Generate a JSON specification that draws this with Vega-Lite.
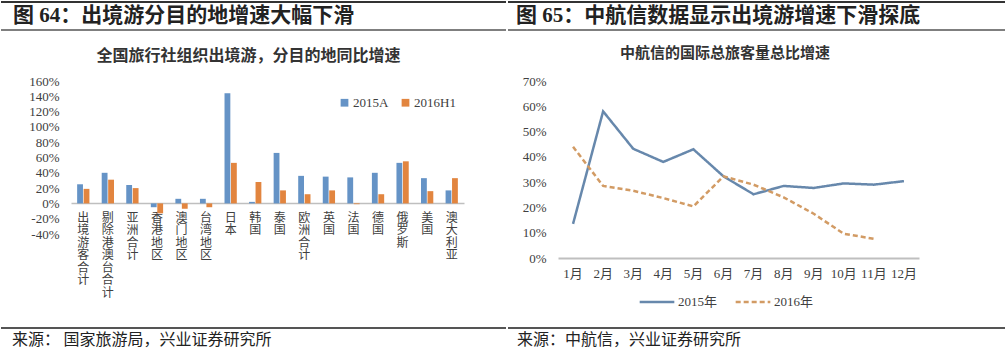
{
  "$schema": "https://vega.github.io/schema/vega-lite/v6.json",
  "padding": {"top": 1, "left": 0, "right": 0, "bottom": 0},
  "background": "white",
  "spacing": 15,
  "resolve": {"scale": {"color": "independent", "strokeDash": "independent"}, "legend": {"color": "independent", "strokeDash": "independent"}},
  "config": {
    "view": {"stroke": null},
    "font": "Liberation Serif, Noto Sans CJK SC",
    "axis": {"labelColor": "#404040", "labelFont": "Liberation Serif, Noto Sans CJK SC"},
    "legend": {"labelColor": "#404040", "labelFont": "Liberation Serif, Noto Sans CJK SC"}
  },
  "vconcat": [
    {
      "spacing": 0,
      "hconcat": [
        {
          "width": 505, "height": 28,
          "data": {"values": [{"t": "图 64：出境游分目的地增速大幅下滑"}]},
          "layer": [
            {"mark": {"type": "rule", "color": "#333", "strokeWidth": 2}, "encoding": {"y": {"datum": 1, "type": "quantitative", "scale": {"domain": [0, 1]}, "axis": null}}},
            {"mark": {"type": "rule", "color": "#555", "strokeWidth": 1.5}, "encoding": {"y": {"datum": 0, "type": "quantitative", "scale": {"domain": [0, 1]}, "axis": null}}},
            {"mark": {"type": "text", "align": "left", "baseline": "middle", "dx": 12, "fontSize": 21, "fontWeight": "bold", "font": "Liberation Serif, Noto Sans CJK SC", "color": "#222"},
             "encoding": {"text": {"field": "t"}, "x": {"datum": 0, "type": "quantitative", "scale": {"domain": [0, 1]}, "axis": null}, "y": {"datum": 0.5, "type": "quantitative", "scale": {"domain": [0, 1]}, "axis": null}}}
          ]
        },
        {
          "width": 500, "height": 28,
          "data": {"values": [{"t": "图 65：中航信数据显示出境游增速下滑探底"}]},
          "layer": [
            {"mark": {"type": "rule", "color": "#333", "strokeWidth": 2}, "encoding": {"y": {"datum": 1, "type": "quantitative", "scale": {"domain": [0, 1]}, "axis": null}}},
            {"mark": {"type": "rule", "color": "#555", "strokeWidth": 1.5}, "encoding": {"y": {"datum": 0, "type": "quantitative", "scale": {"domain": [0, 1]}, "axis": null}}},
            {"mark": {"type": "text", "align": "left", "baseline": "middle", "dx": 8, "fontSize": 21, "fontWeight": "bold", "font": "Liberation Serif, Noto Sans CJK SC", "color": "#222"},
             "encoding": {"text": {"field": "t"}, "x": {"datum": 0, "type": "quantitative", "scale": {"domain": [0, 1]}, "axis": null}, "y": {"datum": 0.5, "type": "quantitative", "scale": {"domain": [0, 1]}, "axis": null}}}
          ]
        }
      ]
    },
    {
      "spacing": 18,
      "resolve": {"scale": {"color": "independent", "strokeDash": "independent"}, "legend": {"color": "independent", "strokeDash": "independent"}},
      "vconcat": [
        {
          "spacing": 0,
          "resolve": {"scale": {"color": "independent", "strokeDash": "independent"}, "legend": {"color": "independent", "strokeDash": "independent"}},
          "hconcat": [
            {
              "width": 505, "height": 153,
              "title": {"text": "全国旅行社组织出境游，分目的地同比增速", "fontSize": 16, "fontWeight": "bold", "font": "Noto Sans CJK SC", "color": "#333", "anchor": "middle", "frame": "group", "dx": -5, "offset": 11},
              "data": {"values": [
                {"cat": "出境游客合计", "series": "2015A", "value": 25},
                {"cat": "出境游客合计", "series": "2016H1", "value": 19},
                {"cat": "剔除港澳台合计", "series": "2015A", "value": 40},
                {"cat": "剔除港澳台合计", "series": "2016H1", "value": 31},
                {"cat": "亚洲合计", "series": "2015A", "value": 24},
                {"cat": "亚洲合计", "series": "2016H1", "value": 20},
                {"cat": "香港地区", "series": "2015A", "value": -5},
                {"cat": "香港地区", "series": "2016H1", "value": -13},
                {"cat": "澳门地区", "series": "2015A", "value": 6},
                {"cat": "澳门地区", "series": "2016H1", "value": -7},
                {"cat": "台湾地区", "series": "2015A", "value": 6},
                {"cat": "台湾地区", "series": "2016H1", "value": -5},
                {"cat": "日本", "series": "2015A", "value": 144},
                {"cat": "日本", "series": "2016H1", "value": 53},
                {"cat": "韩国", "series": "2015A", "value": 2},
                {"cat": "韩国", "series": "2016H1", "value": 28},
                {"cat": "泰国", "series": "2015A", "value": 66},
                {"cat": "泰国", "series": "2016H1", "value": 17},
                {"cat": "欧洲合计", "series": "2015A", "value": 36},
                {"cat": "欧洲合计", "series": "2016H1", "value": 12},
                {"cat": "英国", "series": "2015A", "value": 35},
                {"cat": "英国", "series": "2016H1", "value": 17},
                {"cat": "法国", "series": "2015A", "value": 34},
                {"cat": "法国", "series": "2016H1", "value": -1},
                {"cat": "德国", "series": "2015A", "value": 40},
                {"cat": "德国", "series": "2016H1", "value": 12},
                {"cat": "俄罗斯", "series": "2015A", "value": 53},
                {"cat": "俄罗斯", "series": "2016H1", "value": 55},
                {"cat": "美国", "series": "2015A", "value": 33},
                {"cat": "美国", "series": "2016H1", "value": 16},
                {"cat": "澳大利亚", "series": "2015A", "value": 17},
                {"cat": "澳大利亚", "series": "2016H1", "value": 33}
              ]},
              "mark": {"type": "bar"},
              "encoding": {
                "x": {"field": "cat", "type": "nominal", "sort": null,
                  "scale": {"range": [70, 463], "paddingInner": 0.5, "paddingOuter": 0.25},
                  "axis": {"title": null, "domainColor": "#BFBFBF", "domainWidth": 1.5, "ticks": false, "labelAngle": 0, "labelExpr": "split(datum.label, '')", "labelLineHeight": 12.5, "labelFontSize": 12, "labelFont": "Noto Sans CJK SC", "labelPadding": 9, "offset": -31, "labelBaseline": "top", "labelOverlap": false, "labelBound": false}},
                "xOffset": {"field": "series", "type": "nominal", "sort": null, "scale": {"paddingInner": 0.1}},
                "y": {"field": "value", "type": "quantitative",
                  "scale": {"domain": [-40, 160], "nice": false, "zero": true},
                  "axis": {"title": null, "offset": -70, "values": [-40, -20, 0, 20, 40, 60, 80, 100, 120, 140, 160], "labelExpr": "datum.value + '%'", "grid": false, "domain": false, "ticks": false, "labelPadding": 12, "labelFontSize": 13}},
                "color": {"field": "series", "type": "nominal", "sort": null,
                  "scale": {"domain": ["2015A", "2016H1"], "range": ["#6593C6", "#E2853F"]},
                  "legend": {"title": null, "orient": "none", "legendX": 337, "legendY": 15, "direction": "horizontal", "symbolType": "square", "symbolSize": 60, "labelFontSize": 13, "labelOffset": 2, "columnPadding": 10}}
              }
            },
            {
              "width": 500, "height": 177,
              "title": {"text": "中航信的国际总旅客量总比增速", "fontSize": 15, "fontWeight": "bold", "font": "Noto Sans CJK SC", "color": "#333", "anchor": "middle", "frame": "group", "dx": -31, "offset": 14},
              "data": {"values": [
                {"month": "1月", "year": "2015年", "value": 13.5},
                {"month": "2月", "year": "2015年", "value": 58},
                {"month": "3月", "year": "2015年", "value": 43.2},
                {"month": "4月", "year": "2015年", "value": 38},
                {"month": "5月", "year": "2015年", "value": 43},
                {"month": "6月", "year": "2015年", "value": 32.3},
                {"month": "7月", "year": "2015年", "value": 25.2},
                {"month": "8月", "year": "2015年", "value": 28.5},
                {"month": "9月", "year": "2015年", "value": 27.7},
                {"month": "10月", "year": "2015年", "value": 29.5},
                {"month": "11月", "year": "2015年", "value": 29},
                {"month": "12月", "year": "2015年", "value": 30.4},
                {"month": "1月", "year": "2016年", "value": 44},
                {"month": "2月", "year": "2016年", "value": 28.5},
                {"month": "3月", "year": "2016年", "value": 26.6},
                {"month": "4月", "year": "2016年", "value": 23.7},
                {"month": "5月", "year": "2016年", "value": 20.4},
                {"month": "6月", "year": "2016年", "value": 32.3},
                {"month": "7月", "year": "2016年", "value": 29},
                {"month": "8月", "year": "2016年", "value": 24},
                {"month": "9月", "year": "2016年", "value": 17.5},
                {"month": "10月", "year": "2016年", "value": 9.6},
                {"month": "11月", "year": "2016年", "value": 7.6}
              ]},
              "mark": {"type": "line", "strokeWidth": 2.5},
              "encoding": {
                "x": {"field": "month", "type": "ordinal", "sort": null,
                  "scale": {"type": "band", "range": [52, 413], "paddingInner": 0, "paddingOuter": 0},
                  "axis": {"title": null, "domainColor": "#BFBFBF", "domainWidth": 2, "ticks": false, "labelAngle": 0, "labelPadding": 9, "labelFontSize": 13}},
                "y": {"field": "value", "type": "quantitative",
                  "scale": {"domain": [0, 70], "nice": false},
                  "axis": {"title": null, "offset": -52, "values": [0, 10, 20, 30, 40, 50, 60, 70], "labelExpr": "datum.value + '%'", "grid": false, "domain": false, "ticks": false, "labelPadding": 12, "labelFontSize": 13}},
                "color": {"field": "year", "type": "nominal", "sort": null,
                  "scale": {"domain": ["2015年", "2016年"], "range": ["#6788AC", "#D29B64"]},
                  "legend": {"title": null, "orient": "none", "legendX": 132, "legendY": 202, "direction": "horizontal", "symbolType": "stroke", "symbolSize": 1200, "symbolStrokeWidth": 2.5, "labelFontSize": 13, "labelOffset": 2, "columnPadding": 12}},
                "strokeDash": {"field": "year", "type": "nominal", "sort": null,
                  "scale": {"domain": ["2015年", "2016年"], "range": [[1, 0], [5, 3]]},
                  "legend": {"title": null, "orient": "none", "legendX": 132, "legendY": 202, "direction": "horizontal", "symbolType": "stroke", "symbolSize": 1200, "symbolStrokeWidth": 2.5, "labelFontSize": 13, "labelOffset": 2, "columnPadding": 12}}
              }
            }
          ]
        },
        {
          "spacing": 0,
          "hconcat": [
            {
              "width": 505, "height": 22,
              "data": {"values": [{"t": "来源：     国家旅游局，兴业证券研究所"}]},
              "layer": [
                {"mark": {"type": "rule", "color": "#555", "strokeWidth": 2}, "encoding": {"y": {"datum": 1, "type": "quantitative", "scale": {"domain": [0, 1]}, "axis": null}}},
                {"mark": {"type": "text", "align": "left", "baseline": "middle", "dx": 11, "fontSize": 16, "font": "Noto Sans CJK SC", "color": "#222"},
                 "encoding": {"text": {"field": "t"}, "x": {"datum": 0, "type": "quantitative", "scale": {"domain": [0, 1]}, "axis": null}, "y": {"datum": 0.45, "type": "quantitative", "scale": {"domain": [0, 1]}, "axis": null}}}
              ]
            },
            {
              "width": 500, "height": 22,
              "data": {"values": [{"t": "来源：中航信，兴业证券研究所"}]},
              "layer": [
                {"mark": {"type": "rule", "color": "#555", "strokeWidth": 2}, "encoding": {"y": {"datum": 1, "type": "quantitative", "scale": {"domain": [0, 1]}, "axis": null}}},
                {"mark": {"type": "text", "align": "left", "baseline": "middle", "dx": 9, "fontSize": 16, "font": "Noto Sans CJK SC", "color": "#222"},
                 "encoding": {"text": {"field": "t"}, "x": {"datum": 0, "type": "quantitative", "scale": {"domain": [0, 1]}, "axis": null}, "y": {"datum": 0.45, "type": "quantitative", "scale": {"domain": [0, 1]}, "axis": null}}}
              ]
            }
          ]
        }
      ]
    }
  ]
}
